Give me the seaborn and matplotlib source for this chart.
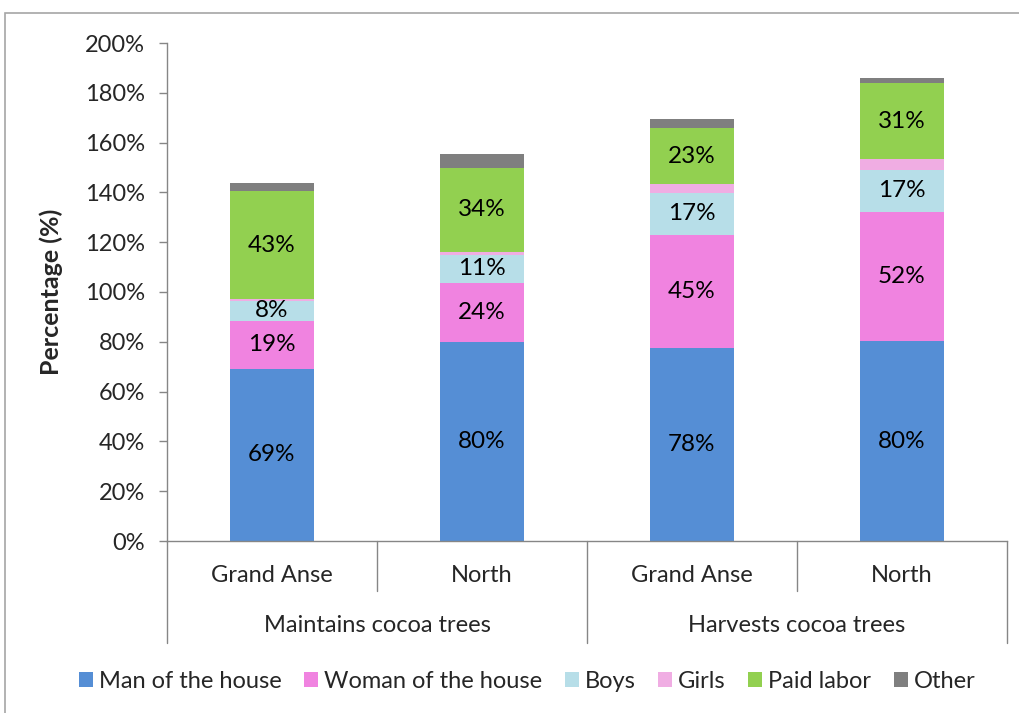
import matplotlib
matplotlib.use("Agg")
import matplotlib.pyplot as plt
import seaborn as sns
import pandas as pd
from matplotlib.patches import Rectangle, Patch

# ---- data ----
groups = ["Maintains cocoa trees", "Harvests cocoa trees"]
regions = ["Grand Anse", "North", "Grand Anse", "North"]
bar_group = ["Maintains cocoa trees", "Maintains cocoa trees", "Harvests cocoa trees", "Harvests cocoa trees"]
series = ["Man of the house", "Woman of the house", "Boys", "Girls", "Paid labor", "Other"]
man = [69.1, 80.0, 77.6, 80.2]
woman = [19.3, 23.6, 45.3, 52.1]
boys = [8.1, 11.4, 16.9, 16.7]
girls = [0.7, 1.2, 3.4, 4.3]
paid = [43.2, 33.6, 22.8, 30.6]
other = [3.4, 5.6, 3.4, 2.2]
labelled = ["Man of the house", "Woman of the house", "Boys", "Paid labor"]
yticks = [0, 20, 40, 60, 80, 100, 120, 140, 160, 180, 200]

colors = {"Man of the house": "#558ED5", "Woman of the house": "#F083E0",
          "Boys": "#B7DEE8", "Girls": "#F0ADE3", "Paid labor": "#92D050",
          "Other": "#7F7F7F"}

values = {"Man of the house": man, "Woman of the house": woman, "Boys": boys,
          "Girls": girls, "Paid labor": paid, "Other": other}

keys = [f"{g} | {r}" for g, r in zip(bar_group, regions)]

sns.set_theme(style="white")
plt.rcParams["font.family"] = ["Lato", "DejaVu Sans"]

FS = 17

fig = plt.figure(figsize=(10.2, 7.13), dpi=100)
ax = fig.add_axes([167/1020, 1-541/713, (1007-167)/1020, (541-43)/713])

# cumulative tops
cum = {}
running = [0.0]*4
bottoms = {}
for s in series:
    bottoms[s] = list(running)
    running = [a + b for a, b in zip(running, values[s])]
    cum[s] = list(running)

# draw from the top layer down
for s in reversed(series):
    df = pd.DataFrame({"bar": keys, "top": cum[s]})
    sns.barplot(data=df, x="bar", y="top", order=keys, color=colors[s],
                saturation=1, width=0.4, linewidth=0, ax=ax)

for s in labelled:
    for i in range(4):
        h = values[s][i]
        ax.text(i, bottoms[s][i] + h/2, f"{round(h)}%", ha="center", va="center",
                fontsize=FS + 0.5, color="black")

ax.set_ylim(0, 200)
ax.set_xlim(-0.5, 3.5)
ax.set_yticks(yticks)
ax.set_yticklabels([f"{v}%" for v in yticks], fontsize=FS)
ax.set_xticks([])
ax.set_xlabel("")
ax.set_ylabel("Percentage (%)", fontsize=FS + 1, fontweight="bold")
ax.yaxis.set_label_coords((63 - 167)/840, 0.5)
for sp in ["top", "right"]:
    ax.spines[sp].set_visible(False)
for sp in ["left", "bottom"]:
    ax.spines[sp].set_color("#868686")
    ax.spines[sp].set_linewidth(1)
ax.tick_params(axis="y", direction="out", length=6, width=1, color="#868686",
               left=True, pad=10)

# hierarchical category axis
trans = ax.get_xaxis_transform()
axh = 541 - 43
short_y = -(591 - 541)/axh
long_y = -(643 - 541)/axh
for x in [0.5, 2.5]:
    ax.plot([x, x], [0, short_y], transform=trans, color="#868686", lw=1, clip_on=False)
for x in [-0.5, 1.5, 3.5]:
    ax.plot([x, x], [0, long_y], transform=trans, color="#868686", lw=1, clip_on=False)
for i, r in enumerate(regions):
    ax.text(i, -(575 - 541)/axh, r, transform=trans, ha="center", va="center", fontsize=FS)
for j, g in enumerate(groups):
    ax.text(2*j + 0.5, -(626 - 541)/axh, g, transform=trans, ha="center", va="center", fontsize=FS)

handles = [Patch(facecolor=colors[s], edgecolor="none") for s in series]
fig.legend(handles, series, loc="center", bbox_to_anchor=(527/1020, 1-681/713), ncol=6,
           frameon=False, fontsize=FS, handlelength=0.6, handleheight=0.6,
           handletextpad=0.25, columnspacing=0.95)

fig.patches.append(Rectangle((5/1020, -0.05), 1.1, 1 - 13/713 + 0.05, transform=fig.transFigure,
                             fill=False, edgecolor="#A6A6A6", lw=1.2))

fig.savefig("out.png", dpi=100, facecolor="white")
